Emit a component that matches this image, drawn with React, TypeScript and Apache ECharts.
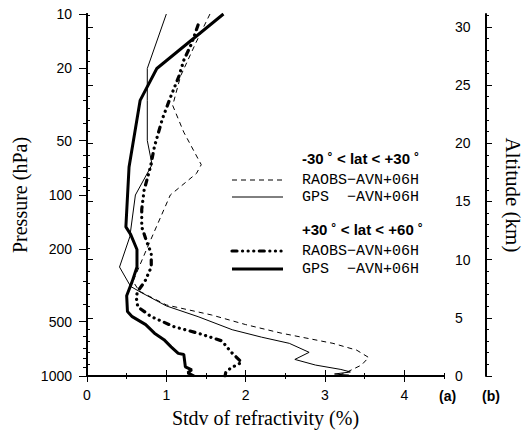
import React, { useEffect, useRef } from "react";
import * as echarts from "echarts";

// ---- axis ticks ----
const pressureTicks = [10, 20, 50, 100, 200, 500, 1000];
const pressureMinorTicks = [30, 40, 60, 70, 80, 90, 300, 400, 600, 700, 800, 900];
const xTicks = [0, 1, 2, 3, 4];
const xMinorTicks = [0.5, 1.5, 2.5, 3.5, 4.5];
const altitudeTicks = [0, 5, 10, 15, 20, 25, 30];
const altitudeMinorTicks = [1, 2, 3, 4, 6, 7, 8, 9, 11, 12, 13, 14, 16, 17, 18, 19, 21, 22, 23, 24, 26, 27, 28, 29, 31];

// ---- series: -30 < lat < +30, RAOBS (thin dashed) ----
const tropRaobsP = [10, 14.5, 22, 32, 45, 68, 76, 100, 200, 300, 340, 405, 460, 520, 580, 660, 720, 790, 870, 950, 1000];
const tropRaobsV = [1.55, 1.37, 1.18, 1.08, 1.22, 1.44, 1.38, 1.05, 0.75, 0.58, 0.66, 1.0, 1.57, 2.0, 2.45, 3.1, 3.4, 3.55, 3.46, 3.28, 3.15];

// ---- series: -30 < lat < +30, GPS (thin solid) ----
const tropGpsP = [10, 20, 30, 50, 68, 100, 170, 250, 320, 345, 410, 470, 555, 610, 660, 740, 810, 870, 920, 950, 975, 990, 1000];
const tropGpsV = [1.0, 0.76, 0.76, 0.76, 0.82, 0.61, 0.54, 0.41, 0.55, 0.68, 1.0, 1.4, 1.83, 2.2, 2.55, 2.8, 2.62, 2.88, 3.2, 3.32, 3.12, 3.3, 3.05];

// ---- series: +30 < lat < +60, RAOBS (thick dotted) ----
const midRaobsP = [11.5, 14.5, 18, 22, 29, 38, 54, 70, 94, 120, 150, 180, 210, 250, 300, 340, 365, 415, 470, 535, 580, 640, 740, 840, 900, 950, 1000];
const midRaobsV = [1.4, 1.32, 1.22, 1.16, 1.05, 0.95, 0.85, 0.8, 0.72, 0.69, 0.69, 0.75, 0.81, 0.81, 0.73, 0.64, 0.62, 0.64, 0.81, 1.1, 1.4, 1.7, 1.82, 1.95, 1.82, 1.75, 1.74];

// ---- series: +30 < lat < +60, GPS (thick solid) ----
const midGpsP = [10, 20, 30, 70, 150, 165, 200, 250, 300, 360, 440, 470, 520, 580, 630, 690, 750, 760, 890, 925, 960, 1000];
const midGpsV = [1.72, 0.88, 0.67, 0.53, 0.49, 0.55, 0.63, 0.63, 0.57, 0.5, 0.51, 0.57, 0.74, 0.85, 0.97, 1.06, 1.15, 1.22, 1.24, 1.32, 1.27, 1.35];

const lg = (p: number) => Math.log10(p);
const pts = (v: number[], p: number[]) => v.map((x, i) => [x, lg(p[i])]);

const SANS = "Liberation Sans, Arial, sans-serif";
const SERIF = "Liberation Serif, Times New Roman, serif";
const MONO = "Liberation Mono, Courier New, monospace";

const dotDash = [5, 5.5, 0.1, 5.5, 0.1, 5.5, 0.1, 5.5];

export default function App() {
  const ref = useRef<HTMLDivElement>(null);
  useEffect(() => {
    if (!ref.current) return;
    const chart = echarts.init(ref.current, undefined, { renderer: "svg" });
    const black = "#000";
    const pMin = 10, pMax = 1000;
    const yBase = {
      type: "value" as const,
      min: lg(pMin),
      max: lg(pMax),
      inverse: true,
      splitLine: { show: false },
    };
    const xBase = { type: "value" as const, min: 0, max: 4.5, splitLine: { show: false } };
    const altBase = { type: "value" as const, min: 0, max: 31.1, splitLine: { show: false }, position: "right" as const };

    chart.setOption({
      animation: false,
      backgroundColor: "#fff",
      grid: { left: 87, right: 82, top: 14, bottom: 57, containLabel: false },
      xAxis: [
        {
          ...xBase,
          position: "bottom",
          axisLine: { show: true, lineStyle: { color: black, width: 2 } },
          axisTick: { show: true, length: 6, customValues: xTicks, lineStyle: { color: black, width: 1 } },
          axisLabel: { customValues: xTicks, color: black, fontFamily: SANS, fontSize: 14, margin: 12 },
          name: "Stdv of refractivity (%)",
          nameLocation: "middle",
          nameGap: 32,
          nameTextStyle: { color: black, fontFamily: SERIF, fontSize: 20 },
        },
        {
          ...xBase,
          position: "bottom",
          axisLine: { show: false },
          axisTick: { show: true, length: 3, customValues: xMinorTicks, lineStyle: { color: black, width: 1 } },
          axisLabel: { show: false },
        },
        {
          ...xBase,
          position: "top",
          axisLine: { show: true, lineStyle: { color: black, width: 2 } },
          axisTick: { show: true, length: 6, customValues: xTicks, lineStyle: { color: black, width: 1 } },
          axisLabel: { show: false },
        },
        {
          ...xBase,
          position: "top",
          axisLine: { show: false },
          axisTick: { show: true, length: 3, customValues: xMinorTicks, lineStyle: { color: black, width: 1 } },
          axisLabel: { show: false },
        },
      ],
      yAxis: [
        {
          ...yBase,
          position: "left",
          axisLine: { show: true, lineStyle: { color: black, width: 2 } },
          axisTick: { show: true, length: 8, customValues: pressureTicks.map(lg), lineStyle: { color: black, width: 1 } },
          axisLabel: {
            customValues: pressureTicks.map(lg),
            formatter: (v: number) => String(Math.round(Math.pow(10, v))),
            color: black,
            fontFamily: SANS,
            fontSize: 14,
            margin: 15,
          },
          name: "Pressure (hPa)",
          nameLocation: "middle",
          nameGap: 52,
          nameTextStyle: { color: black, fontFamily: SERIF, fontSize: 20 },
        },
        {
          ...yBase,
          position: "left",
          axisLine: { show: false },
          axisTick: { show: true, length: 4, customValues: pressureMinorTicks.map(lg), lineStyle: { color: black, width: 1 } },
          axisLabel: { show: false },
        },
        {
          ...altBase,
          axisLine: { show: true, lineStyle: { color: black, width: 2 } },
          axisTick: { show: true, length: 6, customValues: altitudeTicks, lineStyle: { color: black, width: 1 } },
          axisLabel: { customValues: altitudeTicks, color: black, fontFamily: SANS, fontSize: 14, margin: 11 },
          name: "Altitude (km)",
          nameLocation: "middle",
          nameRotate: -90,
          nameGap: 58,
          nameTextStyle: { color: black, fontFamily: SERIF, fontSize: 21 },
        },
        {
          ...altBase,
          axisLine: { show: false },
          axisTick: { show: true, length: 3, customValues: altitudeMinorTicks, lineStyle: { color: black, width: 1 } },
          axisLabel: { show: false },
        },
        {
          ...altBase,
          offset: 42,
          axisLine: { show: true, lineStyle: { color: black, width: 2 } },
          axisTick: { show: true, length: 6, customValues: altitudeTicks, lineStyle: { color: black, width: 1 } },
          axisLabel: { show: false },
        },
        {
          ...altBase,
          offset: 42,
          axisLine: { show: false },
          axisTick: { show: true, length: 3, customValues: altitudeMinorTicks, lineStyle: { color: black, width: 1 } },
          axisLabel: { show: false },
        },
      ],
      series: [
        {
          type: "line",
          data: pts(tropRaobsV, tropRaobsP),
          symbol: "none",
          lineStyle: { color: black, width: 1, type: [5, 4] },
          z: 3,
        },
        {
          type: "line",
          data: pts(tropGpsV, tropGpsP),
          symbol: "none",
          lineStyle: { color: black, width: 1 },
          z: 3,
        },
        {
          type: "line",
          data: pts(midRaobsV, midRaobsP),
          symbol: "none",
          lineStyle: { color: black, width: 3.2, type: dotDash, cap: "round" },
          z: 4,
        },
        {
          type: "line",
          data: pts(midGpsV, midGpsP),
          symbol: "none",
          lineStyle: { color: black, width: 3 },
          z: 4,
        },
      ],
      graphic: [
        { type: "text", left: 302, top: 151, style: { text: "-30 ˚ < lat < +30 ˚", font: `bold 15px ${SANS}`, fill: black } },
        { type: "line", shape: { x1: 232, y1: 180, x2: 283, y2: 180 }, style: { stroke: black, lineWidth: 1, lineDash: [5, 4] } },
        { type: "text", left: 302, top: 173, style: { text: "RAOBS−AVN+06H", font: `15px ${MONO}`, fill: black } },
        { type: "line", shape: { x1: 232, y1: 197, x2: 283, y2: 197 }, style: { stroke: black, lineWidth: 1 } },
        { type: "text", left: 302, top: 190, style: { text: "GPS  −AVN+06H", font: `15px ${MONO}`, fill: black } },
        { type: "text", left: 302, top: 222, style: { text: "+30 ˚ < lat < +60 ˚", font: `bold 15px ${SANS}`, fill: black } },
        { type: "line", shape: { x1: 232, y1: 251, x2: 283, y2: 251 }, style: { stroke: black, lineWidth: 3.2, lineDash: dotDash, lineCap: "round" } },
        { type: "text", left: 302, top: 244, style: { text: "RAOBS−AVN+06H", font: `15px ${MONO}`, fill: black } },
        { type: "line", shape: { x1: 232, y1: 269, x2: 283, y2: 269 }, style: { stroke: black, lineWidth: 3 } },
        { type: "text", left: 302, top: 262, style: { text: "GPS  −AVN+06H", font: `15px ${MONO}`, fill: black } },
        { type: "text", left: 439, top: 389, style: { text: "(a)", font: `bold 14px ${SANS}`, fill: black } },
        { type: "text", left: 482, top: 389, style: { text: "(b)", font: `bold 14px ${SANS}`, fill: black } },
      ],
    });
    return () => chart.dispose();
  }, []);
  return (
    <div
      ref={ref}
      style={{ position: "fixed", left: 0, top: 0, width: 531, height: 433, background: "#fff" }}
    />
  );
}
